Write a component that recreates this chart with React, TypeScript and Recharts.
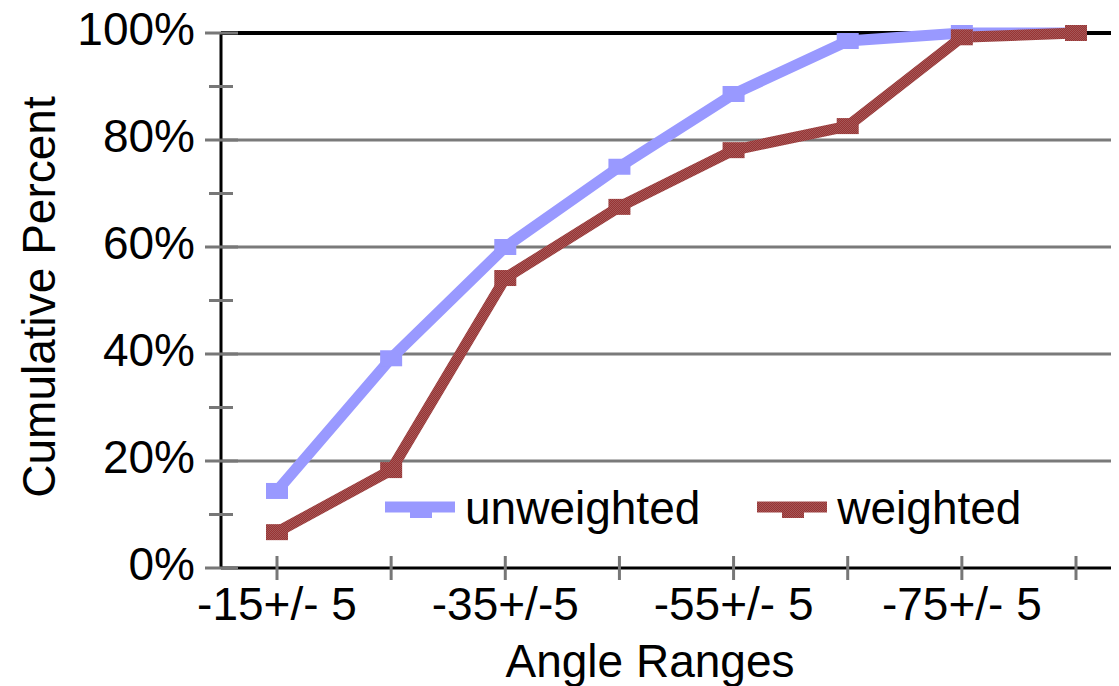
import React from 'react';
import { LineChart, Line, XAxis, YAxis, ReferenceLine, Label } from 'recharts';

// angle range buckets (only every other one is labelled on the axis)
const ranges = ['-15+/- 5', '-25+/-5', '-35+/-5', '-45+/-5', '-55+/- 5', '-65+/-5', '-75+/- 5', '-85+/-5'];
const tickLabels = ['-15+/- 5', '', '-35+/-5', '', '-55+/- 5', '', '-75+/- 5', ''];

const unweighted = [14.4, 39.2, 60, 75, 88.6, 98.5, 100, 100];
const weighted = [6.7, 18.3, 54.2, 67.5, 78.1, 82.6, 99.2, 100];

const seriesNames = ['unweighted', 'weighted'];
const yTicks = [0, 10, 20, 30, 40, 50, 60, 70, 80, 90, 100];
const gridValues = [20, 40, 60, 80];

const data = ranges.map((r, i) => ({
  range: r,
  unweighted: unweighted[i],
  weighted: weighted[i],
}));

const FONT = '"Liberation Sans", Arial, sans-serif';
const BLUE = '#9999ff';
const RED = 'url(#chk)';
const TICK_GREY = '#777777';
const colors: Record<string, string> = { unweighted: BLUE, weighted: RED };

const YTick = ({ x, y, payload }: any) => {
  const major = payload.value % 20 === 0;
  return (
    <g>
      <line x1={major ? x - 16 : x - 12} x2={major ? x + 17 : x + 12} y1={y} y2={y} stroke={TICK_GREY} strokeWidth={3} />
      {major && (
        <text x={x - 26} y={y + 12} textAnchor="end" fontSize={46} fontFamily={FONT} fill="#000">
          {payload.value}%
        </text>
      )}
    </g>
  );
};

const XTick = ({ x, y, index }: any) => (
  <g>
    <line x1={x} x2={x} y1={y - 12} y2={y + 12} stroke={TICK_GREY} strokeWidth={3} />
    {tickLabels[index] && (
      <text x={x} y={y + 52} textAnchor="middle" fontSize={46} fontFamily={FONT} fill="#000">
        {tickLabels[index]}
      </text>
    )}
  </g>
);

const marker = (fill: string) => (props: any) => (
  <rect key={`m-${props.index}`} x={props.cx - 11} y={props.cy - 8} width={22} height={16} fill={fill} />
);

// legend drawn as an overlay so it doesn't eat plot height
const LegendBox = () => (
  <div
    style={{
      position: 'absolute',
      left: 385,
      top: 483,
      display: 'flex',
      alignItems: 'center',
      fontFamily: FONT,
      fontSize: 46,
      lineHeight: '50px',
    }}
  >
    {seriesNames.map((name, i) => (
      <div key={name} style={{ display: 'flex', alignItems: 'center', marginLeft: i === 0 ? 0 : 57 }}>
        <svg width={70} height={20} style={{ marginRight: 10 }}>
          <line x1={0} x2={70} y1={9} y2={9} stroke={colors[name]} strokeWidth={11} />
          <rect x={25} y={4} width={22} height={16} fill={colors[name]} />
        </svg>
        <span style={{ color: '#000' }}>{name}</span>
      </div>
    ))}
  </div>
);

export default function App() {
  return (
    <div
      style={{
        position: 'relative',
        top: -8,
        left: -8,
        width: 1119,
        height: 686,
        overflow: 'hidden',
        background: '#fff',
      }}
    >
      <svg width={0} height={0} style={{ position: 'absolute' }}>
        <defs>
          <pattern id="chk" patternUnits="userSpaceOnUse" width={2} height={2}>
            <rect x={0} y={0} width={2} height={2} fill="#993333" />
            <rect x={0} y={0} width={1} height={1} fill="#a45858" />
            <rect x={1} y={1} width={1} height={1} fill="#a45858" />
          </pattern>
        </defs>
      </svg>
      <LineChart width={1133} height={686} data={data} margin={{ top: 33, right: 0, bottom: 0, left: 0 }}>
        {gridValues.map((v) => (
          <ReferenceLine key={v} y={v} stroke="#7a7a7a" strokeWidth={3} />
        ))}
        <ReferenceLine y={100} stroke="#000" strokeWidth={4} />
        <XAxis
          dataKey="range"
          height={118}
          interval={0}
          padding={{ left: 56, right: 57 }}
          axisLine={{ stroke: '#000', strokeWidth: 3 }}
          tickLine={false}
          tickSize={0}
          tickMargin={0}
          tick={<XTick />}
        >
          <Label
            content={() => (
              <text x={650} y={677} textAnchor="middle" fontSize={46} fontFamily={FONT} fill="#000">
                Angle Ranges
              </text>
            )}
          />
        </XAxis>
        <YAxis
          width={221}
          domain={[0, 100]}
          ticks={yTicks}
          interval={0}
          axisLine={{ stroke: '#000', strokeWidth: 3 }}
          tickLine={false}
          tickSize={0}
          tickMargin={0}
          tick={<YTick />}
        >
          <Label
            content={() => (
              <text x={55} y={297} transform="rotate(-90, 55, 297)" textAnchor="middle" fontSize={46} fontFamily={FONT} fill="#000">
                Cumulative Percent
              </text>
            )}
          />
        </YAxis>
        <Line
          type="linear"
          dataKey="unweighted"
          stroke={BLUE}
          strokeWidth={11}
          dot={marker(BLUE)}
          activeDot={false}
          isAnimationActive={false}
        />
        <Line
          type="linear"
          dataKey="weighted"
          stroke={RED}
          strokeWidth={11}
          dot={marker(RED)}
          activeDot={false}
          isAnimationActive={false}
        />
      </LineChart>
      <LegendBox />
    </div>
  );
}
